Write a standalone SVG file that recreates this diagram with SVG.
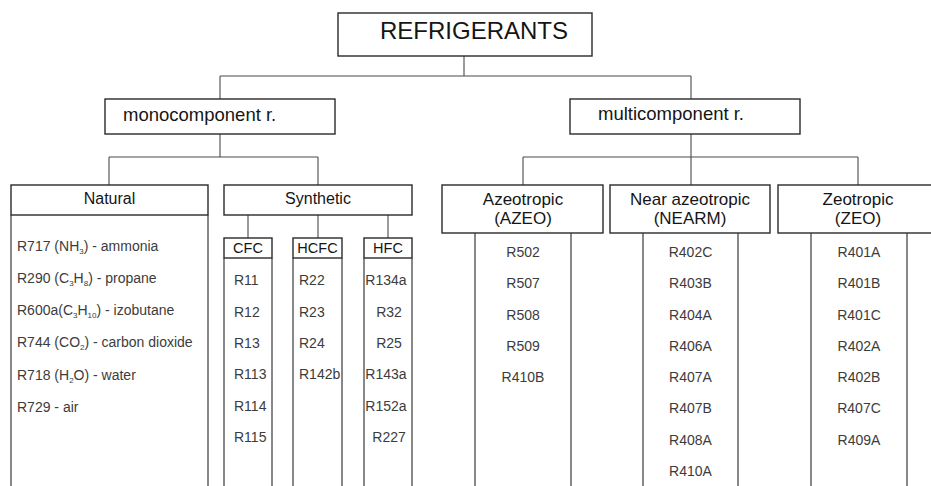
<svg xmlns="http://www.w3.org/2000/svg" width="931" height="486" viewBox="0 0 931 486">
<style>
text{font-family:"Liberation Sans",Arial,sans-serif;}
.box{fill:#fff;stroke:#2a2a2a;stroke-width:1.4;}
.body{stroke:#3a3a3a;stroke-width:1.2;fill:none;}
.conn{stroke:#4a4a4a;stroke-width:1.1;fill:none;}
.h{fill:#151515;}
.it{fill:#3c3c3c;font-size:14px;}
.c{text-anchor:middle;}
.sub{font-size:8px;}
</style>
<rect width="931" height="486" fill="#fff"/>
<g id="connectors">
<path class="conn" d="M464,56V76M220,76H691M220,76V99M691,76V99"/>
<path class="conn" d="M220,134V157M109,157H318M109,157V185M318,157V185"/>
<path class="conn" d="M248,215V238M318,215V238M388,215V238"/>
<path class="conn" d="M691,134V157M523,157H858M523,157V185M691,157V185M858,157V185"/>
</g>
<g id="refrigerants">
<rect class="box" x="338" y="13" width="254" height="43"/>
<text class="h" x="380" y="39" font-size="24">REFRIGERANTS</text>
</g>
<g id="monocomponent">
<rect class="box" x="105" y="99" width="230" height="35"/>
<text class="h" x="123" y="121" font-size="18.5">monocomponent r.</text>
</g>
<g id="multicomponent">
<rect class="box" x="570" y="99" width="230" height="35"/>
<text class="h" x="598" y="120" font-size="18.5">multicomponent r.</text>
</g>
<g id="natural">
<rect class="box" x="11" y="185" width="197" height="30"/>
<path class="body" d="M11,215V490M208,215V490"/>
<text class="h c" x="109.5" y="204" font-size="16">Natural</text>
<text class="it" x="17" y="251">R717 (NH<tspan class="sub" dy="3">3</tspan><tspan dy="-3">) - ammonia</tspan></text>
<text class="it" x="17" y="283">R290 (C<tspan class="sub" dy="3">3</tspan><tspan dy="-3">H</tspan><tspan class="sub" dy="3">8</tspan><tspan dy="-3">) - propane</tspan></text>
<text class="it" x="17" y="315">R600a(C<tspan class="sub" dy="3">3</tspan><tspan dy="-3">H</tspan><tspan class="sub" dy="3">10</tspan><tspan dy="-3">) - izobutane</tspan></text>
<text class="it" x="17" y="347">R744 (CO<tspan class="sub" dy="3">2</tspan><tspan dy="-3">) - carbon dioxide</tspan></text>
<text class="it" x="17" y="380">R718 (H<tspan class="sub" dy="3">2</tspan><tspan dy="-3">O) - water</tspan></text>
<text class="it" x="17" y="412">R729 - air</text>
</g>
<g id="synthetic">
<rect class="box" x="224" y="185" width="188" height="30"/>
<text class="h c" x="318" y="204" font-size="16">Synthetic</text>
</g>
<g id="cfc">
<rect class="box" x="224" y="238" width="48" height="20"/>
<path class="body" d="M224,258V490M272,258V490"/>
<text class="h c" x="248" y="253" font-size="14.5" fill="#222">CFC</text>
<text class="it" x="234" y="285">R11</text>
<text class="it" x="234" y="317">R12</text>
<text class="it" x="234" y="348">R13</text>
<text class="it" x="234" y="379">R113</text>
<text class="it" x="234" y="411">R114</text>
<text class="it" x="234" y="442">R115</text>
</g>
<g id="hcfc">
<rect class="box" x="293" y="238" width="49" height="20"/>
<path class="body" d="M293,258V490M342,258V490"/>
<text class="h c" x="317.5" y="253" font-size="14.5">HCFC</text>
<text class="it" x="299" y="285">R22</text>
<text class="it" x="299" y="317">R23</text>
<text class="it" x="299" y="348">R24</text>
<text class="it" x="299" y="379">R142b</text>
</g>
<g id="hfc">
<rect class="box" x="364" y="238" width="48" height="20"/>
<path class="body" d="M364,258V490M412,258V490"/>
<text class="h c" x="388" y="253" font-size="14.5">HFC</text>
<text class="it c" x="386" y="285">R134a</text>
<text class="it c" x="389" y="317">R32</text>
<text class="it c" x="389" y="348">R25</text>
<text class="it c" x="386" y="379">R143a</text>
<text class="it c" x="386" y="411">R152a</text>
<text class="it c" x="389" y="442">R227</text>
</g>
<g id="azeotropic">
<rect class="box" x="442" y="185" width="161" height="48"/>
<path class="body" d="M475,233V490M571,233V490"/>
<text class="h c" x="523" y="205" font-size="17">Azeotropic</text>
<text class="h c" x="523" y="224" font-size="17">(AZEO)</text>
<text class="it c" x="523" y="257">R502</text>
<text class="it c" x="523" y="288">R507</text>
<text class="it c" x="523" y="320">R508</text>
<text class="it c" x="523" y="351">R509</text>
<text class="it c" x="523" y="382">R410B</text>
</g>
<g id="near-azeotropic">
<rect class="box" x="610" y="185" width="160" height="48"/>
<path class="body" d="M643,233V490M738,233V490"/>
<text class="h c" x="690" y="205" font-size="17">Near azeotropic</text>
<text class="h c" x="690" y="224" font-size="17">(NEARM)</text>
<text class="it c" x="690.5" y="257">R402C</text>
<text class="it c" x="690.5" y="288">R403B</text>
<text class="it c" x="690.5" y="320">R404A</text>
<text class="it c" x="690.5" y="351">R406A</text>
<text class="it c" x="690.5" y="382">R407A</text>
<text class="it c" x="690.5" y="413">R407B</text>
<text class="it c" x="690.5" y="445">R408A</text>
<text class="it c" x="690.5" y="476">R410A</text>
</g>
<g id="zeotropic">
<rect class="box" x="778" y="185" width="170" height="48"/>
<path class="body" d="M811,233V490M907,233V490"/>
<text class="h c" x="858" y="205" font-size="17">Zeotropic</text>
<text class="h c" x="858" y="224" font-size="17">(ZEO)</text>
<text class="it c" x="859" y="257">R401A</text>
<text class="it c" x="859" y="288">R401B</text>
<text class="it c" x="859" y="320">R401C</text>
<text class="it c" x="859" y="351">R402A</text>
<text class="it c" x="859" y="382">R402B</text>
<text class="it c" x="859" y="413">R407C</text>
<text class="it c" x="859" y="445">R409A</text>
</g>
</svg>
